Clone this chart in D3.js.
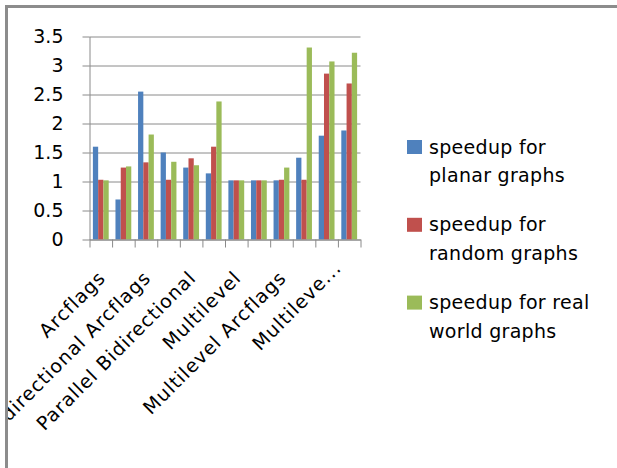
<!DOCTYPE html>
<html>
<head>
<meta charset="utf-8">
<script src="https://cdn.jsdelivr.net/npm/d3@7"></script>
<style>
  html, body { margin: 0; padding: 0; background: #fff; }
  svg { display: block; }
  text { font-family: "DejaVu Sans", sans-serif; fill: #000; }
</style>
</head>
<body>
<svg id="chart" width="617" height="468"></svg>
<script>
// Category tick labels (only every other category is labelled on the axis)
const tickLabels = [
  "Arcflags", "",
  "Bidirectional Arcflags", "",
  "Parallel Bidirectional", "",
  "Multilevel", "",
  "Multilevel Arcflags", "",
  "Multileve...", ""
];

const seriesNames = [
  "speedup for planar graphs",
  "speedup for random graphs",
  "speedup for real world graphs"
];

const planarSpeedup    = [1.60, 0.69, 2.55, 1.50, 1.24, 1.14, 1.02, 1.02, 1.02, 1.41, 1.79, 1.88];
const randomSpeedup    = [1.03, 1.24, 1.33, 1.03, 1.40, 1.60, 1.02, 1.02, 1.03, 1.03, 2.86, 2.69];
const realWorldSpeedup = [1.02, 1.26, 1.81, 1.34, 1.28, 2.38, 1.02, 1.02, 1.24, 3.31, 3.07, 3.22];

const yTicks = [0, 0.5, 1, 1.5, 2, 2.5, 3, 3.5];

// Legend lines (each entry wraps onto two lines)
const legendLines = [
  ["speedup for", "planar graphs"],
  ["speedup for", "random graphs"],
  ["speedup for real", "world graphs"]
];

const colors = ["#4F81BD", "#C0504D", "#9BBB59"];
const series = [planarSpeedup, randomSpeedup, realWorldSpeedup];

const svg = d3.select("#chart");
const W = 617, H = 468;

// chart area clip (inside the frame)
svg.append("defs").append("clipPath").attr("id", "area")
  .append("rect").attr("x", 8).attr("y", 8).attr("width", W - 8).attr("height", H - 8);

const g = svg.append("g").attr("clip-path", "url(#area)");

const plot = { left: 89.5, right: 360.5, top: 36.5, bottom: 239.5 };
const idx = d3.range(tickLabels.length);

const x0 = d3.scaleBand()
  .domain(idx)
  .range([plot.left, plot.right])
  .paddingInner(0.3)
  .paddingOuter(0.15);

const x1 = d3.scaleBand()
  .domain(d3.range(series.length))
  .range([0, x0.bandwidth()]);

const y = d3.scaleLinear().domain([0, 3.5]).range([plot.bottom, plot.top]);

// boundary positions for category tick marks
const xEdges = d3.scaleLinear().domain([0, tickLabels.length]).range([plot.left, plot.right]);

const gridColor = "#8a8a8a";

// horizontal gridlines
const grid = g.append("g")
  .attr("transform", `translate(${plot.left},0)`)
  .call(d3.axisLeft(y).tickValues(yTicks).tickSize(-(plot.right - plot.left)).tickFormat(""));
grid.select(".domain").remove();
grid.selectAll("line").attr("stroke", gridColor).attr("stroke-width", 1);

// y axis with outside tick marks and labels
const yAxis = g.append("g")
  .attr("transform", `translate(${plot.left},0)`)
  .call(d3.axisLeft(y).tickValues(yTicks).tickSize(7).tickSizeOuter(0).tickPadding(19)
    .tickFormat(d => d3.format("")(d)));
yAxis.select(".domain").attr("stroke", gridColor);
yAxis.selectAll(".tick line").attr("stroke", gridColor);
yAxis.selectAll(".tick text")
  .attr("font-family", "DejaVu Sans, sans-serif")
  .attr("font-size", 19)
  .attr("dy", "0.30em")
  .attr("fill", "#000");

// bars
const groups = g.append("g").selectAll("g")
  .data(idx)
  .join("g")
  .attr("transform", i => `translate(${x0(i)},0)`);

groups.selectAll("rect")
  .data(i => series.map((s, k) => ({ k, v: s[i] })))
  .join("rect")
  .attr("x", d => x1(d.k))
  .attr("width", x1.bandwidth())
  .attr("y", d => y(d.v))
  .attr("height", d => y(0) - y(d.v))
  .attr("fill", d => colors[d.k]);

// x axis: line and tick marks on category boundaries
const xAxis = g.append("g")
  .attr("transform", `translate(0,${plot.bottom})`)
  .call(d3.axisBottom(xEdges).tickValues(d3.range(tickLabels.length + 1)).tickSize(8).tickSizeOuter(0).tickFormat(""));
xAxis.select(".domain").attr("stroke", gridColor);
xAxis.selectAll(".tick line").attr("stroke", gridColor);

// rotated category labels
g.append("g").selectAll("text")
  .data(idx.filter(i => tickLabels[i] !== ""))
  .join("text")
  .attr("transform", i => {
    const cx = x0(i) + x0.bandwidth() / 2 + 6;
    return `translate(${cx},279) rotate(-45)`;
  })
  .attr("dx", i => tickLabels[i].endsWith("...") ? 14 : 0)
  .attr("text-anchor", "end")
  .attr("font-size", 19)
  .attr("letter-spacing", 1)
  .text(i => tickLabels[i]);

// legend
const legend = g.append("g").selectAll("g")
  .data(seriesNames)
  .join("g")
  .attr("transform", (d, i) => `translate(407,${153.5 + i * 77.8})`);

legend.append("rect")
  .attr("x", 0).attr("y", -13.5)
  .attr("width", 15).attr("height", 14)
  .attr("fill", (d, i) => colors[i]);

legend.each(function (d, i) {
  const t = d3.select(this).append("text")
    .attr("x", 22)
    .attr("font-size", 19)
    .attr("letter-spacing", 0.3);
  legendLines[i].forEach((line, j) => {
    t.append("tspan").attr("x", 22).attr("y", j * 28.5).text(line);
  });
});

// frame (top and left edges visible)
svg.append("path")
  .attr("d", `M6.5,${H} V6.5 H${W}`)
  .attr("fill", "none")
  .attr("stroke", "#8c8c8c")
  .attr("stroke-width", 3);
</script>
</body>
</html>
